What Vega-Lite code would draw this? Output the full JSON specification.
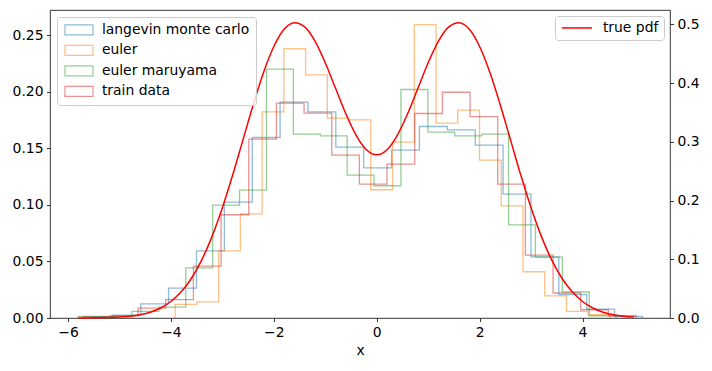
{
  "$schema": "https://vega.github.io/schema/vega-lite/v6.json",
  "autosize": {"type": "none"},
  "padding": {"left": 50, "top": 10, "right": 42, "bottom": 53},
  "width": 620,
  "height": 308,
  "background": "white",
  "datasets": {
    "hist": [
      {"s": "langevin monte carlo", "i": 0, "x": -5.670, "d": 0},
      {"s": "langevin monte carlo", "i": 1, "x": -5.670, "d": 0.001},
      {"s": "langevin monte carlo", "i": 2, "x": -5.128, "d": 0.0026},
      {"s": "langevin monte carlo", "i": 3, "x": -4.586, "d": 0.0124},
      {"s": "langevin monte carlo", "i": 4, "x": -4.045, "d": 0.0265},
      {"s": "langevin monte carlo", "i": 5, "x": -3.503, "d": 0.0594},
      {"s": "langevin monte carlo", "i": 6, "x": -2.961, "d": 0.1025},
      {"s": "langevin monte carlo", "i": 7, "x": -2.419, "d": 0.1596},
      {"s": "langevin monte carlo", "i": 8, "x": -1.878, "d": 0.1908},
      {"s": "langevin monte carlo", "i": 9, "x": -1.336, "d": 0.1822},
      {"s": "langevin monte carlo", "i": 10, "x": -0.795, "d": 0.151},
      {"s": "langevin monte carlo", "i": 11, "x": -0.253, "d": 0.1328},
      {"s": "langevin monte carlo", "i": 12, "x": 0.289, "d": 0.1484},
      {"s": "langevin monte carlo", "i": 13, "x": 0.830, "d": 0.1693},
      {"s": "langevin monte carlo", "i": 14, "x": 1.372, "d": 0.1663},
      {"s": "langevin monte carlo", "i": 15, "x": 1.914, "d": 0.1528},
      {"s": "langevin monte carlo", "i": 16, "x": 2.456, "d": 0.1095},
      {"s": "langevin monte carlo", "i": 17, "x": 2.997, "d": 0.0541},
      {"s": "langevin monte carlo", "i": 18, "x": 3.539, "d": 0.0206},
      {"s": "langevin monte carlo", "i": 19, "x": 4.081, "d": 0.0079},
      {"s": "langevin monte carlo", "i": 20, "x": 4.622, "d": 0.0015},
      {"s": "langevin monte carlo", "i": 21, "x": 5.164, "d": 0},
      {"s": "euler", "i": 0, "x": -3.917, "d": 0},
      {"s": "euler", "i": 1, "x": -3.917, "d": 0.012},
      {"s": "euler", "i": 2, "x": -3.495, "d": 0.0143},
      {"s": "euler", "i": 3, "x": -3.072, "d": 0.0594},
      {"s": "euler", "i": 4, "x": -2.650, "d": 0.0921},
      {"s": "euler", "i": 5, "x": -2.227, "d": 0.1822},
      {"s": "euler", "i": 6, "x": -1.805, "d": 0.2382},
      {"s": "euler", "i": 7, "x": -1.382, "d": 0.2149},
      {"s": "euler", "i": 8, "x": -0.960, "d": 0.1767},
      {"s": "euler", "i": 9, "x": -0.537, "d": 0.1752},
      {"s": "euler", "i": 10, "x": -0.115, "d": 0.1134},
      {"s": "euler", "i": 11, "x": 0.308, "d": 0.1555},
      {"s": "euler", "i": 12, "x": 0.730, "d": 0.2594},
      {"s": "euler", "i": 13, "x": 1.153, "d": 0.1722},
      {"s": "euler", "i": 14, "x": 1.575, "d": 0.1837},
      {"s": "euler", "i": 15, "x": 1.998, "d": 0.1396},
      {"s": "euler", "i": 16, "x": 2.420, "d": 0.0992},
      {"s": "euler", "i": 17, "x": 2.843, "d": 0.0409},
      {"s": "euler", "i": 18, "x": 3.265, "d": 0.0195},
      {"s": "euler", "i": 19, "x": 3.688, "d": 0.0058},
      {"s": "euler", "i": 20, "x": 4.110, "d": 0.0029},
      {"s": "euler", "i": 21, "x": 4.533, "d": 0},
      {"s": "euler maruyama", "i": 0, "x": -5.802, "d": 0},
      {"s": "euler maruyama", "i": 1, "x": -5.802, "d": 0.0014},
      {"s": "euler maruyama", "i": 2, "x": -5.279, "d": 0.0014},
      {"s": "euler maruyama", "i": 3, "x": -4.756, "d": 0.0058},
      {"s": "euler maruyama", "i": 4, "x": -4.234, "d": 0.0097},
      {"s": "euler maruyama", "i": 5, "x": -3.711, "d": 0.0444},
      {"s": "euler maruyama", "i": 6, "x": -3.188, "d": 0.0998},
      {"s": "euler maruyama", "i": 7, "x": -2.666, "d": 0.1131},
      {"s": "euler maruyama", "i": 8, "x": -2.143, "d": 0.22},
      {"s": "euler maruyama", "i": 9, "x": -1.620, "d": 0.1625},
      {"s": "euler maruyama", "i": 10, "x": -1.097, "d": 0.161},
      {"s": "euler maruyama", "i": 11, "x": -0.575, "d": 0.1263},
      {"s": "euler maruyama", "i": 12, "x": -0.052, "d": 0.1169},
      {"s": "euler maruyama", "i": 13, "x": 0.471, "d": 0.202},
      {"s": "euler maruyama", "i": 14, "x": 0.994, "d": 0.1643},
      {"s": "euler maruyama", "i": 15, "x": 1.516, "d": 0.161},
      {"s": "euler maruyama", "i": 16, "x": 2.039, "d": 0.1625},
      {"s": "euler maruyama", "i": 17, "x": 2.562, "d": 0.0824},
      {"s": "euler maruyama", "i": 18, "x": 3.084, "d": 0.0539},
      {"s": "euler maruyama", "i": 19, "x": 3.607, "d": 0.023},
      {"s": "euler maruyama", "i": 20, "x": 4.130, "d": 0.002},
      {"s": "euler maruyama", "i": 21, "x": 4.652, "d": 0},
      {"s": "train data", "i": 0, "x": -5.714, "d": 0},
      {"s": "train data", "i": 1, "x": -5.714, "d": 0.001},
      {"s": "train data", "i": 2, "x": -5.176, "d": 0.002},
      {"s": "train data", "i": 3, "x": -4.638, "d": 0.0088},
      {"s": "train data", "i": 4, "x": -4.101, "d": 0.0162},
      {"s": "train data", "i": 5, "x": -3.563, "d": 0.0459},
      {"s": "train data", "i": 6, "x": -3.025, "d": 0.0913},
      {"s": "train data", "i": 7, "x": -2.487, "d": 0.1581},
      {"s": "train data", "i": 8, "x": -1.950, "d": 0.1899},
      {"s": "train data", "i": 9, "x": -1.412, "d": 0.1811},
      {"s": "train data", "i": 10, "x": -0.874, "d": 0.144},
      {"s": "train data", "i": 11, "x": -0.337, "d": 0.1184},
      {"s": "train data", "i": 12, "x": 0.201, "d": 0.136},
      {"s": "train data", "i": 13, "x": 0.739, "d": 0.1808},
      {"s": "train data", "i": 14, "x": 1.277, "d": 0.1996},
      {"s": "train data", "i": 15, "x": 1.814, "d": 0.1781},
      {"s": "train data", "i": 16, "x": 2.352, "d": 0.1184},
      {"s": "train data", "i": 17, "x": 2.890, "d": 0.0556},
      {"s": "train data", "i": 18, "x": 3.427, "d": 0.0221},
      {"s": "train data", "i": 19, "x": 3.965, "d": 0.0073},
      {"s": "train data", "i": 20, "x": 4.503, "d": 0.002},
      {"s": "train data", "i": 21, "x": 5.041, "d": 0}
    ],
    "pdf": [
      {"s": "true pdf", "x": -5.8, "p": 0.0001},
      {"s": "true pdf", "x": -5.6, "p": 0.0002},
      {"s": "true pdf", "x": -5.4, "p": 0.0004},
      {"s": "true pdf", "x": -5.2, "p": 0.0008},
      {"s": "true pdf", "x": -5.0, "p": 0.0015},
      {"s": "true pdf", "x": -4.8, "p": 0.0030},
      {"s": "true pdf", "x": -4.6, "p": 0.0056},
      {"s": "true pdf", "x": -4.4, "p": 0.0099},
      {"s": "true pdf", "x": -4.2, "p": 0.0170},
      {"s": "true pdf", "x": -4.0, "p": 0.0281},
      {"s": "true pdf", "x": -3.8, "p": 0.0445},
      {"s": "true pdf", "x": -3.6, "p": 0.0677},
      {"s": "true pdf", "x": -3.4, "p": 0.0990},
      {"s": "true pdf", "x": -3.2, "p": 0.1390},
      {"s": "true pdf", "x": -3.0, "p": 0.1877},
      {"s": "true pdf", "x": -2.8, "p": 0.2434},
      {"s": "true pdf", "x": -2.6, "p": 0.3033},
      {"s": "true pdf", "x": -2.4, "p": 0.3632},
      {"s": "true pdf", "x": -2.2, "p": 0.4180},
      {"s": "true pdf", "x": -2.0, "p": 0.4623},
      {"s": "true pdf", "x": -1.8, "p": 0.4917},
      {"s": "true pdf", "x": -1.6, "p": 0.5030},
      {"s": "true pdf", "x": -1.4, "p": 0.4957},
      {"s": "true pdf", "x": -1.2, "p": 0.4715},
      {"s": "true pdf", "x": -1.0, "p": 0.4347},
      {"s": "true pdf", "x": -0.8, "p": 0.3911},
      {"s": "true pdf", "x": -0.6, "p": 0.3477},
      {"s": "true pdf", "x": -0.4, "p": 0.3111},
      {"s": "true pdf", "x": -0.2, "p": 0.2866},
      {"s": "true pdf", "x": 0.0, "p": 0.2780},
      {"s": "true pdf", "x": 0.2, "p": 0.2866},
      {"s": "true pdf", "x": 0.4, "p": 0.3111},
      {"s": "true pdf", "x": 0.6, "p": 0.3477},
      {"s": "true pdf", "x": 0.8, "p": 0.3911},
      {"s": "true pdf", "x": 1.0, "p": 0.4347},
      {"s": "true pdf", "x": 1.2, "p": 0.4715},
      {"s": "true pdf", "x": 1.4, "p": 0.4957},
      {"s": "true pdf", "x": 1.6, "p": 0.5030},
      {"s": "true pdf", "x": 1.8, "p": 0.4917},
      {"s": "true pdf", "x": 2.0, "p": 0.4623},
      {"s": "true pdf", "x": 2.2, "p": 0.4180},
      {"s": "true pdf", "x": 2.4, "p": 0.3632},
      {"s": "true pdf", "x": 2.6, "p": 0.3033},
      {"s": "true pdf", "x": 2.8, "p": 0.2434},
      {"s": "true pdf", "x": 3.0, "p": 0.1877},
      {"s": "true pdf", "x": 3.2, "p": 0.1390},
      {"s": "true pdf", "x": 3.4, "p": 0.0990},
      {"s": "true pdf", "x": 3.6, "p": 0.0677},
      {"s": "true pdf", "x": 3.8, "p": 0.0445},
      {"s": "true pdf", "x": 4.0, "p": 0.0281},
      {"s": "true pdf", "x": 4.2, "p": 0.0170},
      {"s": "true pdf", "x": 4.4, "p": 0.0099},
      {"s": "true pdf", "x": 4.6, "p": 0.0056},
      {"s": "true pdf", "x": 4.8, "p": 0.0030},
      {"s": "true pdf", "x": 5.0, "p": 0.0015}
    ]
  },
  "layer": [
    {
      "data": {"name": "hist"},
      "mark": {"type": "line", "interpolate": "step-after", "strokeWidth": 1.3, "opacity": 0.5},
      "encoding": {
        "x": {"field": "x", "type": "quantitative", "scale": {"domain": [-6.35, 5.70], "nice": false, "zero": false},
              "axis": {"values": [-6, -4, -2, 0, 2, 4], "title": "x", "titlePadding": 5}},
        "y": {"field": "d", "type": "quantitative", "scale": {"domain": [0, 0.2723], "nice": false, "zero": false},
              "axis": {"values": [0, 0.05, 0.1, 0.15, 0.2, 0.25], "format": ".2f", "title": null, "orient": "left"}},
        "order": {"field": "i", "type": "quantitative"},
        "color": {"field": "s", "type": "nominal",
          "scale": {"domain": ["langevin monte carlo", "euler", "euler maruyama", "train data"], "range": ["#1f77b4", "#ff7f0e", "#2ca02c", "#d62728"]},
          "legend": {"title": null, "orient": "top-left", "offset": 7, "symbolType": "M-2.8,-1H2.8V1H-2.8Z", "symbolSize": 100,
            "symbolOffset": 9, "symbolFillColor": "transparent", "symbolStrokeWidth": 1.2, "symbolOpacity": 0.5, "labelFontSize": 13.9, "labelFont": "DejaVu Sans",
            "labelColor": "black", "labelOffset": 16, "padding": 6, "rowPadding": 4.5, "strokeColor": "#cccccc", "fillColor": "rgba(255,255,255,0.8)",
            "cornerRadius": 3, "labelLimit": 300}}
      }
    },
    {
      "data": {"name": "pdf"},
      "mark": {"type": "line", "interpolate": "monotone", "strokeWidth": 1.5},
      "encoding": {
        "x": {"field": "x", "type": "quantitative", "scale": {"domain": [-6.35, 5.70], "nice": false, "zero": false},
              "axis": {"values": [-6, -4, -2, 0, 2, 4], "title": "x", "titlePadding": 5}},
        "y": {"field": "p", "type": "quantitative", "scale": {"domain": [0, 0.5245], "nice": false, "zero": false},
              "axis": {"values": [0, 0.1, 0.2, 0.3, 0.4, 0.5], "format": ".1f", "title": null, "orient": "right"}},
        "color": {"field": "s", "type": "nominal", "scale": {"domain": ["true pdf"], "range": ["#ff0000"]},
          "legend": {"title": null, "orient": "top-right", "offset": 6, "symbolType": "M-3,0H3", "symbolSize": 100, "symbolOffset": 10,
            "symbolStrokeWidth": 1.5, "symbolFillColor": "transparent",
            "labelFontSize": 13.9, "labelFont": "DejaVu Sans", "labelColor": "black", "labelOffset": 19, "padding": 5,
            "strokeColor": "#cccccc", "fillColor": "rgba(255,255,255,0.8)", "cornerRadius": 3}}
      }
    }
  ],
  "resolve": {"scale": {"y": "independent", "color": "independent"}, "axis": {"y": "independent"}, "legend": {"color": "independent"}},
  "config": {
    "font": "DejaVu Sans",
    "view": {"stroke": "black", "strokeWidth": 0.8},
    "axis": {"labelFont": "DejaVu Sans", "labelFontSize": 13.9, "labelColor": "black", "tickColor": "black", "tickSize": 3.5, "tickWidth": 0.8,
      "domain": false, "grid": false, "titleFont": "DejaVu Sans", "titleFontSize": 13.9, "titleFontWeight": "normal", "titleColor": "black", "labelPadding": 3.5}
  }
}
